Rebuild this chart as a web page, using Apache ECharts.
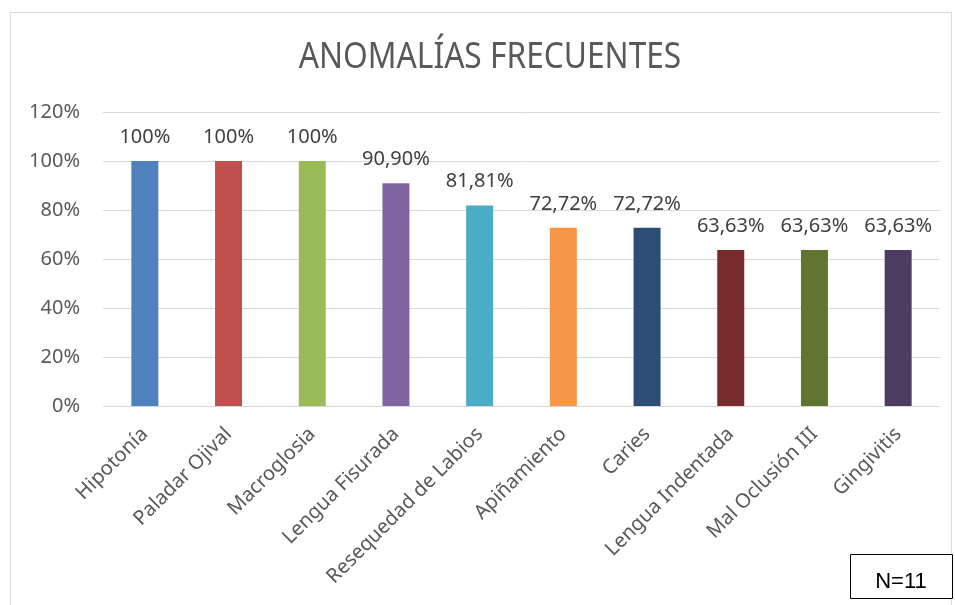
<!DOCTYPE html>
<html><head><meta charset="utf-8">
<script src="https://cdn.jsdelivr.net/npm/echarts@6/dist/echarts.min.js"></script>
<style>html,body{margin:0;padding:0;background:#fff}#c{width:955px;height:605px}</style>
</head><body><div id="c"></div>
<script>
const categories = ["Hipotonía","Paladar Ojival","Macroglosia","Lengua Fisurada","Resequedad de Labios","Apiñamiento","Caries","Lengua Indentada","Mal Oclusión III","Gingivitis"];
const values = [1, 1, 1, 0.909, 0.8181, 0.7272, 0.7272, 0.6363, 0.6363, 0.6363];
const valueLabels = ["100%","100%","100%","90,90%","81,81%","72,72%","72,72%","63,63%","63,63%","63,63%"];
const colors = ["#4F81BD","#C0504D","#9BBB59","#8064A2","#4BACC6","#F79646","#2C4D75","#772C2A","#5F7530","#4D3B62"];
const yTicks = ["0%","20%","40%","60%","80%","100%","120%"];
const titleText = "ANOMALÍAS FRECUENTES";
const noteText = "N=11";

const chart = echarts.init(document.getElementById('c'), null, {renderer:'canvas'});
chart.setOption({
  animation:false,
  grid:{left:103, right:15, top:112, bottom:199, containLabel:false},
  xAxis:{type:'category', data:categories,
    axisLine:{lineStyle:{color:'#d9d9d9', width:1}}, axisTick:{show:false},
    axisLabel:{rotate:45, interval:0, margin:25, color:'#595959', fontSize:20, fontFamily:"'Noto Sans',sans-serif"}},
  yAxis:{type:'value', min:0, max:1.2, interval:0.2,
    axisLine:{show:false}, axisTick:{show:false},
    splitLine:{lineStyle:{color:'#d9d9d9', width:1}},
    axisLabel:{margin:23, color:'#595959', fontSize:20, fontFamily:"'Noto Sans',sans-serif",
      formatter:(v)=> yTicks[Math.round(v/0.2)]}},
  series:[{type:'bar', barWidth:27,
    data: values.map((v,i)=>({value:v, itemStyle:{color:colors[i]}})),
    label:{show:true, position:'top', distance:14, color:'#404040', fontSize:20, fontFamily:"'Noto Sans',sans-serif",
      formatter:(p)=> valueLabels[p.dataIndex]}}],
  graphic:[
    {type:'rect', shape:{x:10.5, y:12.5, width:941, height:600}, style:{fill:'none', stroke:'#d9d9d9', lineWidth:1}, silent:true},
    {type:'text', x:490, y:58, scaleX:0.88, style:{text:titleText, fill:'#595959', font:"36px 'Noto Sans', sans-serif", align:'center', verticalAlign:'middle'}},
    {type:'rect', shape:{x:850.5, y:554.5, width:102, height:44}, style:{fill:'#fff', stroke:'#000', lineWidth:1}},
    {type:'text', x:901, y:582, style:{text:noteText, fill:'#000', font:"22px 'Liberation Sans', Arial, sans-serif", align:'center', verticalAlign:'middle'}}
  ]
});
</script></body></html>
